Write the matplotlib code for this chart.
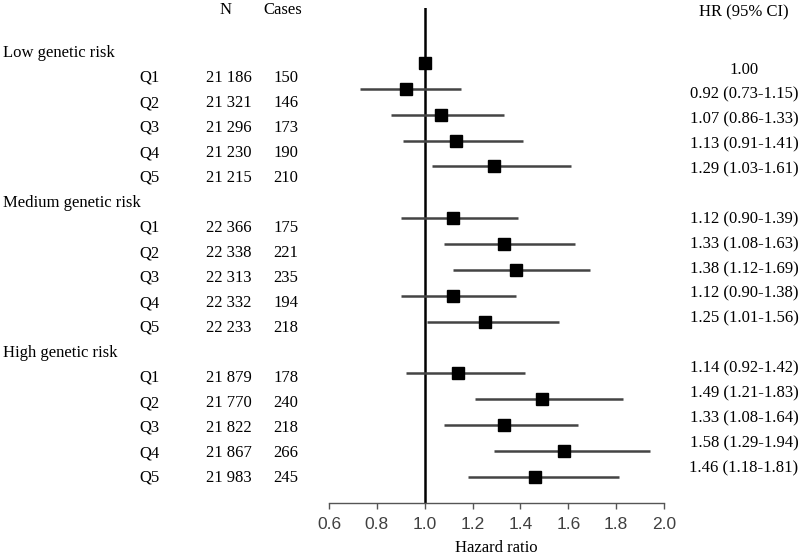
import matplotlib
matplotlib.use("Agg")
import matplotlib.pyplot as plt
from matplotlib import font_manager

groups = ["Low genetic risk", "Medium genetic risk", "High genetic risk"]
quintiles = ["Q1", "Q2", "Q3", "Q4", "Q5"]
n_values = [21186, 21321, 21296, 21230, 21215,
            22366, 22338, 22313, 22332, 22233,
            21879, 21770, 21822, 21867, 21983]
cases = [150, 146, 173, 190, 210,
         175, 221, 235, 194, 218,
         178, 240, 218, 266, 245]
hr = [1.00, 0.92, 1.07, 1.13, 1.29,
      1.12, 1.33, 1.38, 1.12, 1.25,
      1.14, 1.49, 1.33, 1.58, 1.46]
ci_low = [None, 0.73, 0.86, 0.91, 1.03,
          0.90, 1.08, 1.12, 0.90, 1.01,
          0.92, 1.21, 1.08, 1.29, 1.18]
ci_high = [None, 1.15, 1.33, 1.41, 1.61,
           1.39, 1.63, 1.69, 1.38, 1.56,
           1.42, 1.83, 1.64, 1.94, 1.81]
xticks = [0.6, 0.8, 1.0, 1.2, 1.4, 1.6, 1.8, 2.0]

W, H = 800, 556
fig = plt.figure(figsize=(W / 100, H / 100), dpi=100)

serif = ["Liberation Serif", "DejaVu Serif"]
available = {f.name for f in font_manager.fontManager.ttflist}
sans = "Liberation Sans Narrow" if "Liberation Sans Narrow" in available else "Liberation Sans"

def fx(px):
    return px / W

def fy(px):
    return 1 - px / H

# main axes
ax_left, ax_right, ax_top, ax_bottom = 329, 664, 8, 503
ax = fig.add_axes([fx(ax_left), fy(ax_bottom), fx(ax_right - ax_left), (ax_bottom - ax_top) / H])
slot0_px, slot_step = 63, 25.875
ax.set_xlim(0.6, 2.0)
ax.set_ylim((ax_bottom - slot0_px) / slot_step, (ax_top - slot0_px) / slot_step)

slots = []
for g in range(3):
    for q in range(5):
        slots.append(g * 6 + q)

ax.axvline(1.0, color="black", lw=1.8, zorder=1)
for i, s in enumerate(slots):
    if ci_low[i] is not None:
        ax.plot([ci_low[i], ci_high[i]], [s, s], color="#444444", lw=1.8, zorder=2,
                solid_capstyle="butt")
    ax.plot(hr[i], s, marker="s", color="black", markersize=8.2, zorder=3, linestyle="none")

for sp in ["left", "top", "right"]:
    ax.spines[sp].set_visible(False)
ax.spines["bottom"].set_color("#555555")
ax.spines["bottom"].set_linewidth(1.0)
ax.set_yticks([])
ax.set_xticks(xticks)
ax.set_xticklabels([f"{t:.1f}" for t in xticks], fontsize=12.5, family=sans, color="#404040")
ax.tick_params(axis="x", direction="out", length=4, width=1.0, color="#555555", pad=6)
ax.patch.set_alpha(0)

# headers
fs = 12
fig.text(fx(496), fy(548), "Hazard ratio", ha="center", va="center", fontsize=fs, family=serif)
fig.text(fx(226), fy(10), "N", ha="center", va="center", fontsize=fs, family=serif)
fig.text(fx(283), fy(10), "Cases", ha="center", va="center", fontsize=fs, family=serif)
fig.text(fx(744), fy(12), "HR (95% CI)", ha="center", va="center", fontsize=fs, family=serif)

# left table
row0_px, row_step = 53, 25.0
r = 0
k = 0
for g, gname in enumerate(groups):
    fig.text(fx(3), fy(row0_px + row_step * r), gname, ha="left", va="center", fontsize=fs, family=serif)
    r += 1
    for q, qname in enumerate(quintiles):
        y = fy(row0_px + row_step * r)
        fig.text(fx(139), y, qname, ha="left", va="center", fontsize=fs, family=serif)
        fig.text(fx(229), y, f"{n_values[k]:,}".replace(",", " "), ha="center", va="center",
                 fontsize=fs, family=serif)
        fig.text(fx(286), y, str(cases[k]), ha="center", va="center", fontsize=fs, family=serif)
        r += 1
        k += 1

# HR column
hr0_px, hr_step = 70, 24.875
for i, s in enumerate(slots):
    if ci_low[i] is None:
        label = f"{hr[i]:.2f}"
    else:
        label = f"{hr[i]:.2f} ({ci_low[i]:.2f}-{ci_high[i]:.2f})"
    fig.text(fx(744), fy(hr0_px + hr_step * s), label, ha="center", va="center",
             fontsize=fs, family=serif)

fig.savefig("out.png", dpi=100)
